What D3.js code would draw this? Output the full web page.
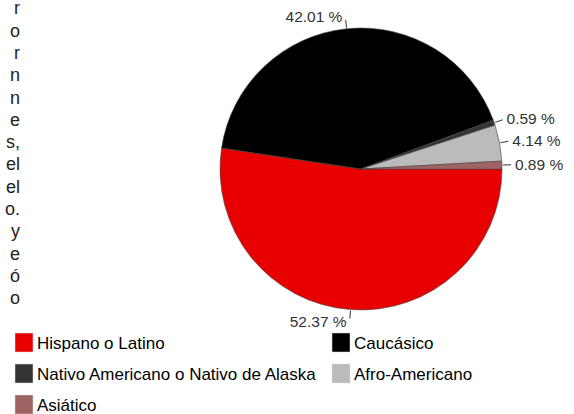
<!DOCTYPE html>
<html>
<head>
<meta charset="utf-8">
<script src="https://cdn.jsdelivr.net/npm/d3@7"></script>
<style>
  body { margin: 0; background: #fff; }
  text { font-family: "Liberation Sans", Arial, sans-serif; }
</style>
</head>
<body>
<script>
// data
var categories = ["Hispano o Latino", "Caucásico", "Nativo Americano o Nativo de Alaska", "Afro-Americano", "Asiático"];
var values = [52.37, 42.01, 0.59, 4.14, 0.89];
var colors = ["#e80000", "#000000", "#333333", "#bbbbbb", "#9e6363"];
// tail ends of a paragraph cut off at the left edge
var sideText = ["r", "o", "r", "n", "n", "e", "s,", "el", "el", "o.", "y", "e", "ó", "o"];

var width = 574;
var height = 414;
var cx = 361, cy = 169, radius = 141;

var svg = d3.select("body").append("svg")
    .attr("width", width)
    .attr("height", height);

// cut off paragraph
svg.selectAll(".side")
    .data(sideText)
    .enter().append("text")
    .attr("class", "side")
    .attr("x", 20)
    .attr("y", function(d, i) { return 8 + i * 22.3; })
    .attr("dy", "0.35em")
    .attr("text-anchor", "end")
    .style("font-size", "18px")
    .style("fill", "#222")
    .text(function(d) { return d; });

var g = svg.append("g").attr("transform", "translate(" + cx + "," + cy + ")");

var data = categories.map(function(c, i) { return {label: c, value: values[i], color: colors[i]}; });

var pie = d3.pie()
    .sort(null)
    .startAngle(Math.PI / 2)
    .endAngle(Math.PI / 2 + 2 * Math.PI)
    .value(function(d) { return d.value; });

var arc = d3.arc().innerRadius(0).outerRadius(radius);

var slices = g.selectAll(".arc")
    .data(pie(data))
    .enter().append("g")
    .attr("class", "arc");

slices.append("path")
    .attr("d", arc)
    .attr("fill", function(d) { return d.data.color; })
    .attr("stroke", "#444")
    .attr("stroke-width", 0.6);

function mid(d) { return (d.startAngle + d.endAngle) / 2; }
function pt(a, r) { return [Math.sin(a) * r, -Math.cos(a) * r]; }

// leader lines
slices.append("line")
    .attr("x1", function(d) { return pt(mid(d), radius + 1)[0]; })
    .attr("y1", function(d) { return pt(mid(d), radius + 1)[1]; })
    .attr("x2", function(d) { return pt(mid(d), radius + 9)[0]; })
    .attr("y2", function(d) { return pt(mid(d), radius + 9)[1]; })
    .attr("stroke", "#333")
    .attr("stroke-width", 1);

slices.append("text")
    .attr("x", function(d) {
        var p = pt(mid(d), radius + 12);
        return Math.sin(mid(d)) >= 0 ? p[0] + 1 : p[0] - 3;
    })
    .attr("y", function(d) { return pt(mid(d), radius + 12)[1]; })
    .attr("dy", "0.35em")
    .attr("text-anchor", function(d) { return Math.sin(mid(d)) >= 0 ? "start" : "end"; })
    .style("font-size", "15.5px")
    .style("fill", "#333")
    .text(function(d) { return d.data.value.toFixed(2) + " %"; });

// legend
var legend = svg.selectAll(".legend")
    .data(data)
    .enter().append("g")
    .attr("class", "legend")
    .attr("transform", function(d, i) {
        return "translate(" + (i % 2 == 0 ? 15 : 332) + "," + (333 + Math.floor(i / 2) * 31) + ")";
    });

legend.append("rect")
    .attr("width", 18)
    .attr("height", 19)
    .attr("fill", function(d) { return d.color; })
    .attr("stroke", "#ddd")
    .attr("stroke-width", 0.5);

legend.append("text")
    .attr("x", 22)
    .attr("y", 10)
    .attr("dy", "0.35em")
    .style("font-size", "17px")
    .style("fill", "#000")
    .text(function(d) { return d.label; });
</script>
</body>
</html>
